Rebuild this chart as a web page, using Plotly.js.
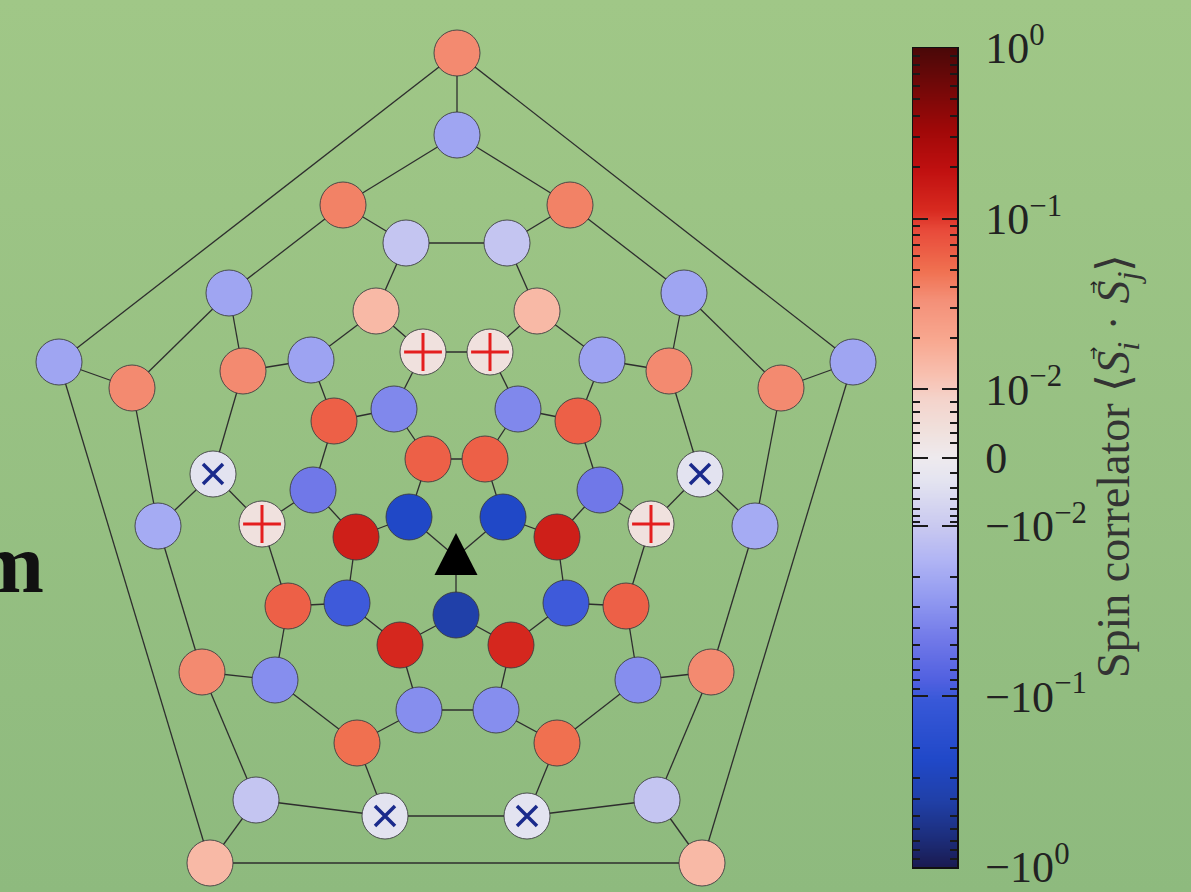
<!DOCTYPE html>
<html>
<head>
<meta charset="utf-8">
<script src="https://cdn.plot.ly/plotly-3.0.1.min.js"></script>
<style>
  html, body { margin: 0; padding: 0; width: 1191px; height: 892px; overflow: hidden;
    background: linear-gradient(180deg, #a0c787 0%, #8eba7e 100%); }
  #chart { width: 1191px; height: 892px; }
</style>
</head>
<body>
<div id="chart"></div>
<script>
// Schlegel diagram of the C60 lattice: site positions in drawing units (y grows downward)
const siteX = [
  456, 409, 428, 485, 503,              // central pentagon (site 0 = reference spin)
  456, 356, 394, 518, 557,              // first shell
  400, 347, 313, 334, 423, 490, 578, 600, 566, 511,
  419, 288, 262, 311, 376, 537, 602, 651, 626, 496,
  357, 275, 213, 243, 406, 507, 669, 700, 638, 557,
  385, 202, 158, 229, 343, 570, 684, 755, 711, 527,
  256, 132, 457, 781, 657,
  210, 59, 457, 853, 702                // outer pentagon
];
const siteY = [
  557, 517, 459, 459, 517,
  615, 537, 409, 409, 537,
  645, 603, 490, 421, 352, 352, 421, 490, 603, 645,
  710, 606, 524, 360, 311, 311, 360, 524, 606, 710,
  743, 680, 474, 371, 243, 243, 371, 474, 680, 743,
  816, 672, 526, 293, 205, 205, 293, 526, 672, 816,
  800, 388, 135, 388, 800,
  863, 362, 53, 362, 863
];
// Spin correlator <S_i . S_j> with the reference site (site 0 has none)
const correlation = [
  null, -0.24, 0.063, 0.063, -0.24,
  -0.40, 0.14, -0.036, -0.036, 0.14,
  0.12, -0.098, -0.047, 0.063, 0.0036, 0.0036, 0.063, -0.047, -0.098, 0.12,
  -0.032, 0.063, 0.0036, -0.022, 0.014, 0.014, -0.022, 0.0036, 0.063, -0.032,
  0.05, -0.032, -0.0036, 0.036, -0.011, -0.011, 0.036, -0.0036, -0.032, 0.05,
  -0.0036, 0.036, -0.019, -0.021, 0.04, 0.04, -0.021, -0.019, 0.036, -0.0036,
  -0.011, 0.036, -0.021, 0.036, -0.011,
  0.014, -0.021, 0.036, -0.021, 0.014
];
// Carbon-carbon bonds (pairs of site indices)
const bonds = [
  [0,1],[1,2],[2,3],[3,4],[4,0],
  [0,5],[1,6],[2,7],[3,8],[4,9],
  [5,10],[5,19],[6,11],[6,12],[7,13],[7,14],[8,15],[8,16],[9,17],[9,18],
  [10,11],[12,13],[14,15],[16,17],[18,19],
  [10,20],[11,21],[12,22],[13,23],[14,24],[15,25],[16,26],[17,27],[18,28],[19,29],
  [20,29],[21,22],[23,24],[25,26],[27,28],
  [20,30],[21,31],[22,32],[23,33],[24,34],[25,35],[26,36],[27,37],[28,38],[29,39],
  [30,31],[32,33],[34,35],[36,37],[38,39],
  [30,40],[31,41],[32,42],[33,43],[34,44],[35,45],[36,46],[37,47],[38,48],[39,49],
  [40,49],[41,42],[43,44],[45,46],[47,48],
  [40,50],[41,50],[42,51],[43,51],[44,52],[45,52],[46,53],[47,53],[48,54],[49,54],
  [50,55],[51,56],[52,57],[53,58],[54,59],
  [55,56],[56,57],[57,58],[58,59],[59,55]
];
const referenceSite = 0;

// Colour-bar ticks and title
const cbTickValues = [1, 0.1, 0.01, 0, -0.01, -0.1, -1];
const cbTickText = ['10<sup>0</sup>', '10<sup>\u22121</sup>', '10<sup>\u22122</sup>', '0',
  '\u221210<sup>\u22122</sup>', '\u221210<sup>\u22121</sup>', '\u221210<sup>0</sup>'];
const cbTitle = 'Spin correlator \u27E8<i>S</i><sub><i>i</i></sub> \u00B7 <i>S</i><sub><i>j</i></sub>\u27E9';

// Symmetric log scale, linear inside |v| < 0.01
const LIN_THRESH = 0.01, LIN_SCALE = 0.4;
function symlog(v) {
  const a = Math.abs(v), s = v < 0 ? -1 : 1;
  return a < LIN_THRESH ? s * a / LIN_THRESH * LIN_SCALE
                        : s * (LIN_SCALE + Math.log10(a / LIN_THRESH));
}
const F_MAX = symlog(1);

const colorscale = [
  [0.000, '#1a1a50'], [0.033, '#1c2c78'], [0.082, '#2040a8'], [0.131, '#2048c8'],
  [0.204, '#3858d8'], [0.228, '#5060e0'], [0.277, '#7078e8'], [0.326, '#9098f0'],
  [0.375, '#b0b4f4'], [0.415, '#c8c8f0'], [0.473, '#e4e4f0'], [0.500, '#eeeaee'],
  [0.534, '#f0e0dc'], [0.570, '#f4d4cc'], [0.601, '#f8c0b0'], [0.643, '#f8a890'],
  [0.692, '#f49078'], [0.729, '#f07050'], [0.778, '#e84a3a'], [0.802, '#d82a20'],
  [0.851, '#c01010'], [0.900, '#a00808'], [1.000, '#4a0808']
];

// bonds as one polyline with gaps
const bx = [], by = [];
bonds.forEach(([a, b]) => { bx.push(siteX[a], siteX[b], null); by.push(siteY[a], siteY[b], null); });

const idx = siteX.map((_, i) => i).filter(i => i !== referenceSite);
const plusIdx = idx.filter(i => correlation[i] > 0 && correlation[i] < LIN_THRESH);
const crossIdx = idx.filter(i => correlation[i] < 0 && correlation[i] > -LIN_THRESH);

// reference-site triangle glyph around its site position
const rx = siteX[referenceSite], ry = siteY[referenceSite];
const triX = [rx - 21.5, rx + 21.5, rx, rx - 21.5];
const triY = [ry + 18, ry + 18, ry - 24, ry + 18];

// colour-bar strip
const nStrip = 600;
const stripY = [], stripZ = [];
for (let i = 0; i <= nStrip; i++) {
  const f = -F_MAX + 2 * F_MAX * i / nStrip;
  stripY.push(f); stripZ.push([f]);
}
// minor ticks: log decades plus subdivisions of the linear band
const minorVals = [];
[0.01, 0.1].forEach(d => { for (let k = 2; k <= 9; k++) { minorVals.push(symlog(k * d), symlog(-k * d)); } });
[0.21, 0.36, 0.51, 0.66, 0.81].forEach(fr => minorVals.push(fr * LIN_SCALE));
[0.23, 0.44, 0.61, 0.76, 0.86, 0.94].forEach(fr => minorVals.push(-fr * LIN_SCALE));

const traces = [
  { type: 'scatter', mode: 'lines', x: bx, y: by, xaxis: 'x', yaxis: 'y',
    line: { color: '#2e2e2e', width: 1.3 }, hoverinfo: 'skip' },
  { type: 'scatter', mode: 'markers', xaxis: 'x', yaxis: 'y',
    x: idx.map(i => siteX[i]), y: idx.map(i => siteY[i]),
    marker: { size: 46, color: idx.map(i => symlog(correlation[i])), colorscale: colorscale,
      cmin: -F_MAX, cmax: F_MAX, line: { color: 'rgba(55,55,60,0.85)', width: 1 } } },
  { type: 'scatter', mode: 'markers', xaxis: 'x', yaxis: 'y',
    x: plusIdx.map(i => siteX[i]), y: plusIdx.map(i => siteY[i]),
    marker: { symbol: 'cross-thin', size: 27, line: { color: '#e41e1e', width: 3 } } },
  { type: 'scatter', mode: 'markers', xaxis: 'x', yaxis: 'y',
    x: crossIdx.map(i => siteX[i]), y: crossIdx.map(i => siteY[i]),
    marker: { symbol: 'x-thin', size: 20, line: { color: '#1a2a8c', width: 3.5 } } },
  { type: 'scatter', mode: 'lines', x: triX, y: triY, xaxis: 'x', yaxis: 'y',
    fill: 'toself', fillcolor: '#000000', line: { width: 0, color: '#000000' } },
  { type: 'heatmap', x: [0], y: stripY, z: stripZ, xaxis: 'x2', yaxis: 'y2',
    colorscale: colorscale, zmin: -F_MAX, zmax: F_MAX, showscale: false, zsmooth: 'best' }
];

const serif = 'Liberation Serif, serif';
const layout = {
  width: 1191, height: 892, margin: { l: 0, r: 0, t: 0, b: 0 },
  paper_bgcolor: 'rgba(0,0,0,0)', plot_bgcolor: 'rgba(0,0,0,0)',
  showlegend: false,
  xaxis: { domain: [0, 1], range: [0, 1191], visible: false, fixedrange: true },
  yaxis: { domain: [0, 1], range: [892, 0], visible: false, fixedrange: true },
  xaxis2: { domain: [913 / 1191, 957 / 1191], range: [-0.5, 0.5], anchor: 'y2',
    showticklabels: false, ticks: '', showgrid: false, zeroline: false,
    showline: true, mirror: true, linecolor: '#111', linewidth: 1.5 },
  yaxis2: { domain: [1 - 867 / 892, 1 - 48 / 892], range: [-F_MAX, F_MAX], anchor: 'x2',
    side: 'right', showgrid: false, zeroline: false,
    showline: true, mirror: 'allticks', linecolor: '#111', linewidth: 1.5,
    tickmode: 'array', tickvals: cbTickValues.map(symlog), ticktext: cbTickText,
    ticks: 'inside', ticklen: 15, tickwidth: 2, tickcolor: '#1a1a1a',
    ticklabelstandoff: 18, ticklabeloverflow: 'allow',
    tickfont: { family: serif, size: 44, color: '#222' },
    minor: { tickmode: 'array', tickvals: minorVals, ticks: 'inside', ticklen: 7,
      tickwidth: 2, tickcolor: '#1a1a1a', showgrid: false } },
  annotations: [
    { xref: 'x', yref: 'y', x: 1117, y: 466, text: cbTitle, textangle: -90, showarrow: false,
      xanchor: 'center', yanchor: 'middle',
      font: { family: serif, size: 46, color: '#333' } },
    // vector arrows over the two spin operators
    { xref: 'x', yref: 'y', x: 1093, y: 354, text: '\u2192', textangle: -90, showarrow: false,
      xanchor: 'center', yanchor: 'middle',
      font: { family: 'DejaVu Sans, sans-serif', size: 16, color: '#222' } },
    { xref: 'x', yref: 'y', x: 1093, y: 288, text: '\u2192', textangle: -90, showarrow: false,
      xanchor: 'center', yanchor: 'middle',
      font: { family: 'DejaVu Sans, sans-serif', size: 16, color: '#222' } },
    { xref: 'x', yref: 'y', x: 46, y: 612, text: '<b>m</b>', showarrow: false,
      xanchor: 'right', yanchor: 'bottom',
      font: { family: serif, size: 84, color: '#111' } }
  ]
};

Plotly.newPlot('chart', traces, layout, { staticPlot: true, displayModeBar: false });
</script>
</body>
</html>
